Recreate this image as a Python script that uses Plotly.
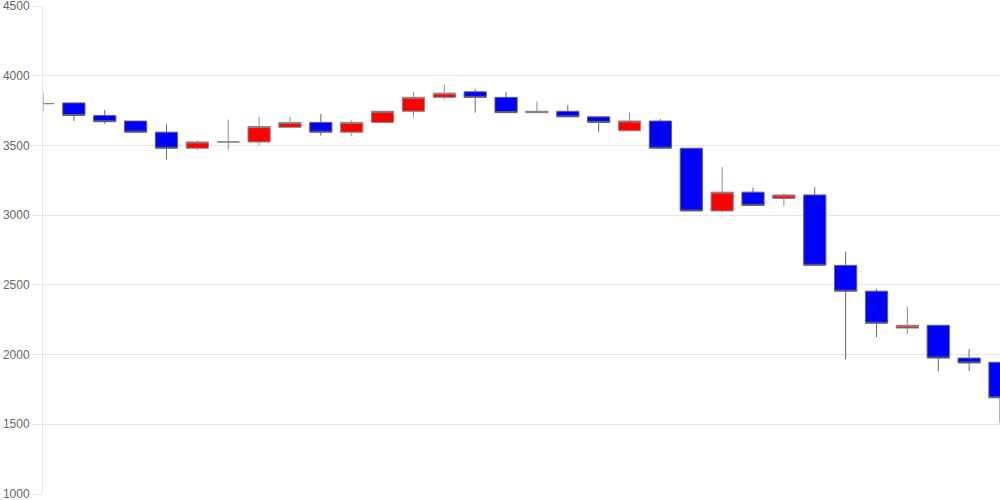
import plotly.graph_objects as go

# daily OHLC
days = list(range(32))
opens = [3800, 3805, 3715, 3675, 3595, 3480, 3525, 3525, 3630, 3665, 3595, 3665,
         3745, 3845, 3885, 3845, 3735, 3745, 3705, 3605, 3675, 3480, 3030, 3165,
         3120, 3145, 2640, 2455, 2190, 2210, 1975, 1945]
highs = [3880, 3805, 3755, 3675, 3655, 3535, 3685, 3705, 3705, 3725, 3680, 3745,
         3885, 3935, 3905, 3885, 3815, 3790, 3705, 3735, 3690, 3480, 3345, 3195,
         3155, 3200, 2740, 2470, 2345, 2210, 2040, 1945]
lows = [3750, 3675, 3655, 3595, 3400, 3465, 3470, 3500, 3625, 3570, 3565, 3665,
        3700, 3830, 3735, 3735, 3735, 3705, 3595, 3605, 3480, 3030, 3020, 3070,
        3065, 2635, 1965, 2125, 2150, 1880, 1880, 1510]
closes = [3800, 3715, 3670, 3595, 3480, 3525, 3525, 3635, 3665, 3595, 3665, 3745,
          3845, 3875, 3845, 3735, 3745, 3705, 3665, 3675, 3480, 3030, 3165, 3070,
          3145, 2640, 2455, 2225, 2210, 1975, 1940, 1690]

y_ticks = [1000, 1500, 2000, 2500, 3000, 3500, 4000, 4500]

fig = go.Figure(
    go.Candlestick(
        x=days,
        open=opens,
        high=highs,
        low=lows,
        close=closes,
        increasing=dict(fillcolor="#ff0000", line=dict(color="#888888", width=1)),
        decreasing=dict(fillcolor="#0000ff", line=dict(color="#666666", width=1)),
        whiskerwidth=0,
        showlegend=False,
    )
)

fig.update_layout(
    width=1000,
    height=500,
    margin=dict(l=43, r=0, t=6, b=6, autoexpand=False),
    paper_bgcolor="white",
    plot_bgcolor="white",
    font=dict(family="Liberation Sans, Arial, sans-serif", size=12, color="#666666"),
    boxgap=0.1,
    boxgroupgap=0.2,
    xaxis=dict(
        range=[0, 31],
        showticklabels=False,
        showgrid=False,
        zeroline=False,
        rangeslider=dict(visible=False),
    ),
    yaxis=dict(
        range=[1000, 4500],
        tickvals=y_ticks,
        showgrid=True,
        gridcolor="#e6e6e6",
        zeroline=False,
        showline=True,
        linecolor="#e6e6e6",
        ticks="outside",
        ticklen=10,
        tickcolor="#e6e6e6",
        ticklabelstandoff=0,
        ticklabeloverflow="allow",
    ),
)

# drop the default page margin so the 1000x500 figure fills the window
fig.write_html(
    "out.html",
    config={"displayModeBar": False},
    post_script="document.body.style.margin='0';",
)
